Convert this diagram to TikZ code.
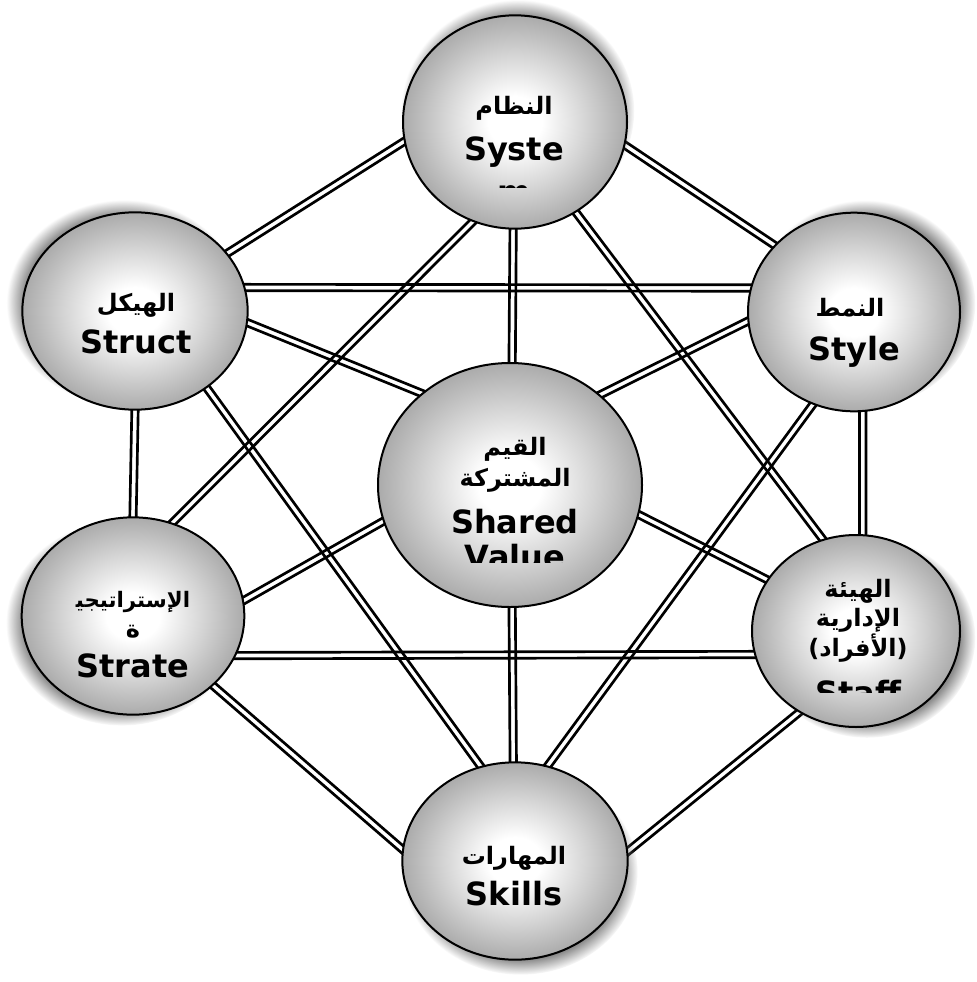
\documentclass[tikz,border=0pt]{standalone}
\usepackage{fontspec}
\setmainfont{DejaVu Sans}
\newfontfamily\arabicfont[Script=Arabic]{DejaVu Sans}
\TeXXeTstate=1
\usetikzlibrary{calc,shapes.geometric,shadows}

\pgfdeclarelayer{links}
\pgfsetlayers{links,main}

% grey ball: white core, grey rim
\pgfdeclareradialshading{ballshade}{\pgfpoint{0bp}{0bp}}{color(0bp)=(white); color(6bp)=(white); color(16bp)=(black!17); color(25bp)=(black!33); color(50bp)=(black!33)}

% two thin parallel lines between two border points
\newcommand{\dlink}[2]{%
  \coordinate (la) at ($(#1)!-6pt!(#2)$);
  \coordinate (lb) at ($(#2)!-6pt!(#1)$);
  \draw[dline] ($(la)!2.4pt!90:(lb)$) -- ($(lb)!2.4pt!-90:(la)$);
  \draw[dline] ($(la)!2.4pt!-90:(lb)$) -- ($(lb)!2.4pt!90:(la)$);
}
\newcommand{\arl}[1]{\beginR #1\endR}

\begin{document}
\begin{tikzpicture}[x=0.75pt,y=0.75pt,yscale=-1,xscale=1,
  ball/.style={ellipse, draw=black, line width=1.5pt, shading=ballshade, inner sep=0pt},
  shd/.style={circular drop shadow={shadow scale=1.04, opacity=0.85, fill={rgb, 255:red, 120; green, 120; blue, 120}, #1}},
  dline/.style={line width=2pt, draw=black},
  en/.style={font=\bfseries\fontsize{24}{28}\selectfont, inner sep=0pt, anchor=base},
  ar/.style={font=\arabicfont\bfseries\fontsize{18}{21}\selectfont, inner sep=0pt, anchor=base}]
\useasboundingbox (0,0) rectangle (977,982);

%Ellipses
\node[ball, minimum width=168pt, minimum height=160pt, shd={shadow xshift=2pt, shadow yshift=8pt}] (sys) at (515,122) {};
\node[ball, minimum width=169pt, minimum height=148pt, shd={shadow xshift=-8pt, shadow yshift=6pt}] (str) at (135,311) {};
\node[ball, minimum width=159pt, minimum height=149pt, shd={shadow xshift=8pt, shadow yshift=6pt}] (sty) at (854,312) {};
\node[ball, minimum width=198pt, minimum height=183pt] (sha) at (510,485) {};
\node[ball, minimum width=167pt, minimum height=148pt, shd={shadow xshift=-8pt, shadow yshift=-5pt}] (stra) at (133,616) {};
\node[ball, minimum width=156pt, minimum height=144pt, shd={shadow xshift=8pt, shadow yshift=-5pt}] (sta) at (856,631) {};
\node[ball, minimum width=169pt, minimum height=148pt, shd={shadow xshift=4pt, shadow yshift=-8pt}] (ski) at (515,861) {};

%Double lines
\begin{pgfonlayer}{links}
\dlink{sys.190}{str.32}
\dlink{sys.348}{sty.140}
\dlink{sys.269}{sha.89}
\dlink{sys.247}{stra.67}
\dlink{sys.304}{sta.110}
\dlink{str.12}{sty.167}
\dlink{str.354}{sha.134}
\dlink{str.270}{stra.90}
\dlink{str.313}{ski.110}
\dlink{sty.185}{sha.45}
\dlink{sty.275}{sta.86}
\dlink{sty.246}{ski.71}
\dlink{stra.8}{sha.196}
\dlink{stra.339}{sta.193}
\dlink{stra.319}{ski.174}
\dlink{sta.235}{ski.5}
\dlink{sta.150}{sha.347}
\dlink{sha.271}{ski.91}
\end{pgfonlayer}

% Text Nodes
\node[ar] (sysar) at (514,114) {\arl{النظام}};
\node[en] (sysen) at (514,160) {Syste};
\begin{scope}
  \clip (400,60) rectangle (630,187);
  \node[en] (sysen2) at (514,203) {m};
\end{scope}

\node[ar] (strar) at (136,311) {\arl{الهيكل}};
\node[en] (stren) at (136,353) {Struct};

\node[ar] (styar) at (850,316) {\arl{النمط}};
\node[en] (styen) at (854,360) {Style};

\node[ar] (shaar) at (515,455) {\arl{القيم}};
\node[ar] (shaar2) at (515,486) {\arl{المشتركة}};
\node[en] (shaen) at (515,533) {Shared};
\begin{scope}
  \clip (380,500) rectangle (640,562);
  \node[en] (shaen2) at (515,568) {Value};
\end{scope}

\node[ar] (stara) at (858,597) {\arl{الهيئة}};
\node[ar] (starb) at (858,626) {\arl{الإدارية}};
\node[ar] (starc) at (858,656) {\arl{(الأفراد)}};
\begin{scope}
  \clip (760,640) rectangle (955,692);
  \node[en] (staen) at (858,704) {Staff};
\end{scope}

\node[ar, font=\arabicfont\bfseries\fontsize{16}{19}\selectfont] (straar) at (133,607) {\arl{الإستراتيجي^^^^200d}};
\node[ar] (straar2) at (133,637) {\arl{ة}};
\node[en] (straen) at (133,677) {Strate};

\node[ar] (skiar) at (514,864) {\arl{المهارات}};
\node[en] (skien) at (514,905) {Skills};
\end{tikzpicture}
\end{document}
